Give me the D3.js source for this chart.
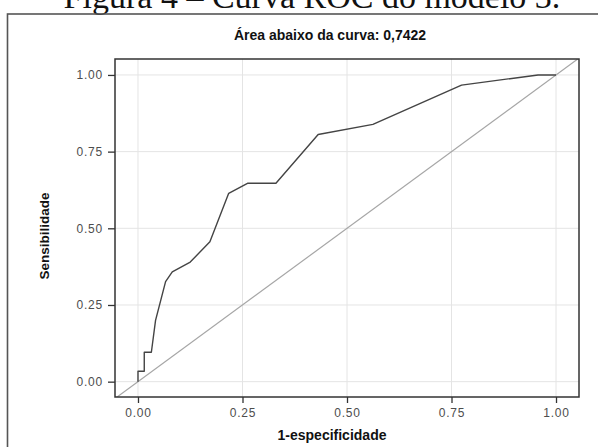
<!DOCTYPE html>
<html>
<head>
<meta charset="utf-8">
<script src="https://cdn.jsdelivr.net/npm/d3@7"></script>
<style>
  body { margin: 0; background: #fff; }
  svg { display: block; }
</style>
</head>
<body>
<div id="chart"></div>
<script>
// ROC curve values
var fpr  = [0, 0, 0.015, 0.015, 0.032, 0.042, 0.066, 0.082, 0.125, 0.172, 0.217, 0.263, 0.330, 0.431, 0.562, 0.774, 0.957, 1.0];
var sens = [0, 0.034, 0.034, 0.096, 0.096, 0.200, 0.326, 0.358, 0.390, 0.456, 0.614, 0.647, 0.647, 0.806, 0.839, 0.967, 1.0, 1.0];
var tickValues = [0, 0.25, 0.5, 0.75, 1];
var tickLabels = ['0.00', '0.25', '0.50', '0.75', '1.00'];
var titleText = 'Área abaixo da curva: 0,7422';
var xLabel = '1-especificidade';
var yLabel = 'Sensibilidade';
var captionText = 'Figura 4 – Curva ROC do modelo 3.';

var W = 598, H = 447;
var panel = {left: 115, right: 579, top: 59, bottom: 397};

var svg = d3.select('#chart').append('svg')
    .attr('width', W)
    .attr('height', H);

// caption of the document, cut off at the top like in the scan
svg.append('text')
    .attr('x', 312)
    .attr('y', 8)
    .attr('text-anchor', 'middle')
    .style('font-family', '"Liberation Serif", "DejaVu Serif", serif')
    .style('font-size', '34px')
    .attr('fill', '#111')
    .text(captionText);

// frame round the figure
svg.append('rect')
    .attr('x', 7.5)
    .attr('y', 14)
    .attr('width', 620)
    .attr('height', 460)
    .attr('fill', 'none')
    .attr('stroke', '#555')
    .attr('stroke-width', 1.6);

var x = d3.scaleLinear().domain([-0.055, 1.055]).range([panel.left, panel.right]);
var y = d3.scaleLinear().domain([-0.05, 1.052]).range([panel.bottom, panel.top]);

svg.append('defs').append('clipPath')
    .attr('id', 'clip')
    .append('rect')
    .attr('x', panel.left)
    .attr('y', panel.top)
    .attr('width', panel.right - panel.left)
    .attr('height', panel.bottom - panel.top);

// grid lines
var grid = svg.append('g');
grid.selectAll('line.gx')
    .data(tickValues)
    .enter()
    .append('line')
    .attr('class', 'gx')
    .attr('x1', function(d){return x(d)})
    .attr('x2', function(d){return x(d)})
    .attr('y1', panel.top)
    .attr('y2', panel.bottom)
    .attr('stroke', '#e4e4e4')
    .attr('stroke-width', 1);
grid.selectAll('line.gy')
    .data(tickValues)
    .enter()
    .append('line')
    .attr('class', 'gy')
    .attr('y1', function(d){return y(d)})
    .attr('y2', function(d){return y(d)})
    .attr('x1', panel.left)
    .attr('x2', panel.right)
    .attr('stroke', '#e4e4e4')
    .attr('stroke-width', 1);

var plot = svg.append('g').attr('clip-path', 'url(#clip)');

// reference diagonal
plot.append('line')
    .attr('x1', x(-0.06)).attr('y1', y(-0.06))
    .attr('x2', x(1.06)).attr('y2', y(1.06))
    .attr('stroke', '#a6a6a6')
    .attr('stroke-width', 1.2);

var pts = fpr.map(function(d, i){ return [d, sens[i]]; });
var line = d3.line()
    .x(function(d){return x(d[0])})
    .y(function(d){return y(d[1])});

plot.append('path')
    .datum(pts)
    .attr('d', line)
    .attr('fill', 'none')
    .attr('stroke', '#444')
    .attr('stroke-width', 1.4)
    .attr('stroke-linejoin', 'round');

// panel border
svg.append('rect')
    .attr('x', panel.left)
    .attr('y', panel.top)
    .attr('width', panel.right - panel.left)
    .attr('height', panel.bottom - panel.top)
    .attr('fill', 'none')
    .attr('stroke', '#333')
    .attr('stroke-width', 1.5);

// axes
var fmt = function(d, i){ return tickLabels[i]; };
var xAxis = svg.append('g')
    .attr('transform', 'translate(0,' + panel.bottom + ')')
    .call(d3.axisBottom(x).tickValues(tickValues).tickFormat(fmt).tickSize(6).tickPadding(5));
var yAxis = svg.append('g')
    .attr('transform', 'translate(' + panel.left + ',0)')
    .call(d3.axisLeft(y).tickValues(tickValues).tickFormat(fmt).tickSize(7).tickPadding(5));

[xAxis, yAxis].forEach(function(ax){
    ax.select('.domain').remove();
    ax.selectAll('.tick line').attr('stroke', '#333').attr('stroke-width', 1.3);
    ax.selectAll('.tick text')
        .attr('fill', '#4d4d4d')
        .style('font-family', '"Liberation Sans", Arial, sans-serif')
        .style('font-size', '12px')
        .style('letter-spacing', '0.8px');
});

// title and axis labels
var bold = function(sel){
    sel.style('font-family', '"Liberation Sans", Arial, sans-serif')
       .style('font-weight', 'bold')
       .attr('fill', '#111')
       .attr('text-anchor', 'middle');
};
svg.append('text').attr('x', 330).attr('y', 40).style('font-size', '14px').call(bold).text(titleText);
svg.append('text').attr('x', 332).attr('y', 440).style('font-size', '14px').call(bold).text(xLabel);
svg.append('text').attr('transform', 'translate(49,236) rotate(-90)').style('font-size', '13.5px').call(bold).text(yLabel);
</script>
</body>
</html>
